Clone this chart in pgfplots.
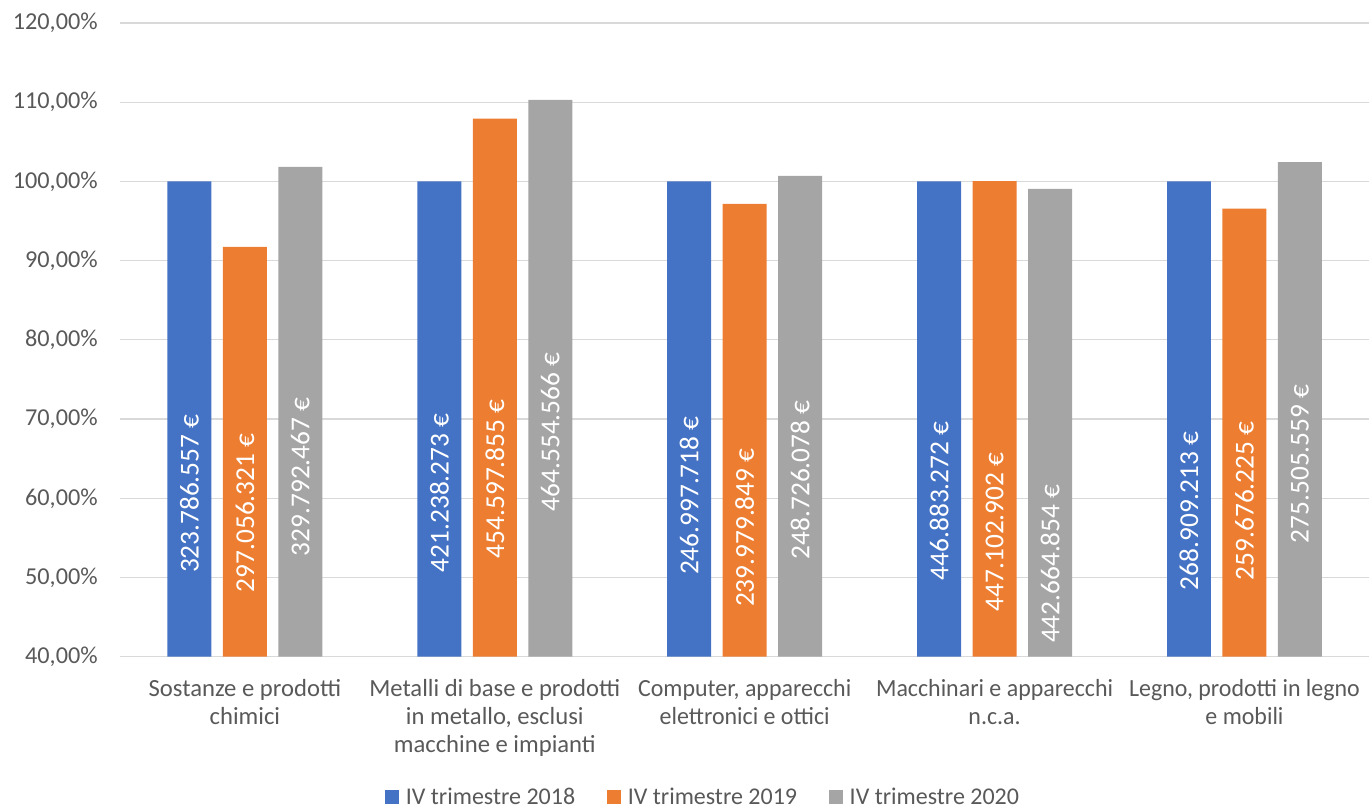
\documentclass[border=0pt]{standalone}
\usepackage{fontspec}
\setmainfont{Carlito}
\usepackage{pgfplots}
\pgfplotsset{compat=1.18}
\definecolor{cblue}{HTML}{4472C4}
\definecolor{corange}{HTML}{ED7D31}
\definecolor{cgray}{HTML}{A5A5A5}
\definecolor{ctext}{HTML}{595959}
\definecolor{cgrid}{HTML}{D9D9D9}
\newcommand{\sq}[1]{\scalebox{0.97}[1]{#1}}
\begin{document}
\begin{tikzpicture}
\path (-90pt,-113.25pt) rectangle (937.5pt,492.75pt);
\begin{axis}[
  at={(0pt,0pt)}, anchor=south west,
  width=937.5pt, height=475.5pt, scale only axis,
  xmin=-0.5, xmax=4.5, ymin=40, ymax=120,
  axis line style={draw=none},
  major tick length=0pt,
  ytick={40,50,...,120},
  yticklabels={{40,00\%},{50,00\%},{60,00\%},{70,00\%},{80,00\%},{90,00\%},{100,00\%},{110,00\%},{120,00\%}},
  ymajorgrids, grid style={cgrid, line width=0.9pt},
  yticklabel style={font=\fontsize{18.2}{22}\selectfont, text=ctext, inner sep=0pt, xshift=-16.5pt},
  xtick={0,...,4},
  xticklabels={{Sostanze e prodotti\\chimici},{Metalli di base e prodotti\\in metallo, esclusi\\macchine e impianti},{\sq{Computer, apparecchi}\\\sq{elettronici e ottici}},{\sq{Macchinari e apparecchi}\\\sq{n.c.a.}},{\sq{Legno, prodotti in legno}\\\sq{e mobili}}},
  xticklabel style={font=\fontsize{18.5}{21.25}\selectfont, text=ctext, align=center, inner sep=0pt, yshift=-16.5pt},
  legend style={at={(0.467,-0.221)}, anchor=center, draw=none, legend columns=3,
    font=\fontsize{18}{22}\selectfont, text=ctext,
    /tikz/every even column/.append style={column sep=22pt}},
  legend image code/.code={\fill[#1] (0pt,-5.25pt) rectangle (10.5pt,5.25pt); \path (13.5pt,0pt);},
]
\addplot[ybar, bar width=0.176, bar shift=-0.222, fill=cblue, draw=none]
  coordinates {(0,100) (1,100) (2,100) (3,100) (4,100)};
\addlegendentry{IV trimestre 2018}
\addplot[ybar, bar width=0.176, bar shift=0, fill=corange, draw=none]
  coordinates {(0,91.75) (1,107.92) (2,97.16) (3,100.05) (4,96.57)};
\addlegendentry{IV trimestre 2019}
\addplot[ybar, bar width=0.176, bar shift=0.222, fill=cgray, draw=none]
  coordinates {(0,101.85) (1,110.28) (2,100.70) (3,99.06) (4,102.45)};
\addlegendentry{IV trimestre 2020}
% labels inside bars
\pgfplotsset{barlab/.style={forget plot, draw=none, mark=none, nodes near coords, point meta=explicit symbolic,
  every node near coord/.style={rotate=90, anchor=center, text=white, inner sep=0pt, font=\fontsize{20.5}{24}\selectfont}}}
\addplot[barlab] coordinates {(-0.222,60.57) [323.786.557 €] (0.778,60.69) [421.238.273 €] (1.778,60.32) [246.997.718 €] (2.778,59.68) [446.883.272 €] (3.778,58.42) [268.909.213 €]};
\addplot[barlab] coordinates {(0,58.17) [297.056.321 €] (1,62.46) [454.597.855 €] (2,56.28) [239.979.849 €] (3,55.77) [447.102.902 €] (4,59.68) [259.676.225 €]};
\addplot[barlab] coordinates {(0.222,62.71) [329.792.467 €] (1.222,68.39) [464.554.566 €] (2.222,62.33) [248.726.078 €] (3.222,51.74) [442.664.854 €] (4.222,64.35) [275.505.559 €]};
\end{axis}
\end{tikzpicture}
\end{document}
